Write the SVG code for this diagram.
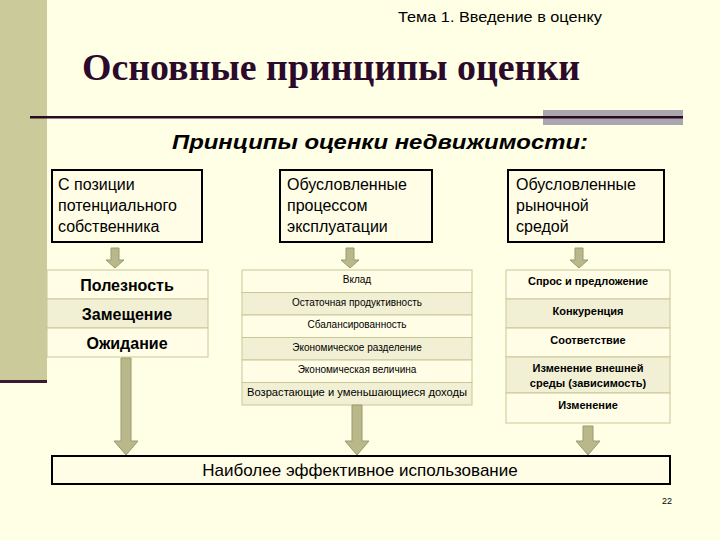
<svg xmlns="http://www.w3.org/2000/svg" width="720" height="540" viewBox="0 0 720 540">
<style>
text{font-family:"Liberation Sans",Arial,sans-serif;fill:#000}
.hb{fill:#fffde6;stroke:#000;stroke-width:2}
.cell{stroke:#c8c79a;stroke-width:1}
.a{fill:#fffde6}.b{fill:#f2f0d4}
.ar{fill:#b8b88a;stroke:#9a9a70;stroke-width:1}
.t1{font-size:16px}
.bl{font-size:16px;font-weight:bold;text-anchor:middle}
.sm{font-size:10px;text-anchor:middle}
.rb{font-size:11px;font-weight:bold;text-anchor:middle}
</style>
<rect width="720" height="540" fill="#ffffe6"/>
<rect x="0" y="0" width="47" height="380" fill="#cbca9b"/>
<rect x="0" y="380" width="47" height="3" fill="#3a1a2e"/>
<text x="398" y="22" font-size="15" textLength="204" lengthAdjust="spacingAndGlyphs">Тема 1. Введение в оценку</text>
<text x="82" y="80" textLength="498" lengthAdjust="spacingAndGlyphs" style="font-family:'Liberation Serif','Times New Roman',serif;font-size:37px;font-weight:bold;fill:#2b0a2b">Основные принципы оценки</text>
<rect x="543" y="110" width="140" height="15" fill="#a9a6ad"/>
<rect x="30" y="116" width="653" height="2.5" fill="#2a0a20"/>
<text x="172" y="149" font-size="21" font-weight="bold" font-style="italic" textLength="416" lengthAdjust="spacingAndGlyphs">Принципы оценки недвижимости:</text>

<g id="top1"><rect class="hb" x="52" y="170" width="150" height="72"/><text class="t1" x="58" y="190">С позиции</text><text class="t1" x="58" y="211">потенциального</text><text class="t1" x="58" y="232">собственника</text></g>
<g id="top2"><rect class="hb" x="280" y="170" width="152" height="72"/><text class="t1" x="287" y="190">Обусловленные</text><text class="t1" x="287" y="211">процессом</text><text class="t1" x="287" y="232">эксплуатации</text></g>
<g id="top3"><rect class="hb" x="508" y="170" width="156" height="72"/><text class="t1" x="516" y="190">Обусловленные</text><text class="t1" x="516" y="211">рыночной</text><text class="t1" x="516" y="232">средой</text></g>

<g id="left">
<rect class="cell a" x="47" y="270" width="161" height="29"/><text class="bl" x="127" y="291">Полезность</text>
<rect class="cell b" x="47" y="299" width="161" height="29"/><text class="bl" x="127" y="320">Замещение</text>
<rect class="cell a" x="47" y="328" width="161" height="29"/><text class="bl" x="127" y="349">Ожидание</text>
</g>
<g id="mid">
<rect class="cell a" x="242" y="270" width="230" height="22.5"/><text class="sm" x="357" y="283">Вклад</text>
<rect class="cell b" x="242" y="292.5" width="230" height="22.5"/><text class="sm" x="357" y="306">Остаточная продуктивность</text>
<rect class="cell a" x="242" y="315" width="230" height="22.5"/><text class="sm" x="357" y="328">Сбалансированность</text>
<rect class="cell b" x="242" y="337.5" width="230" height="22.5"/><text class="sm" x="357" y="351">Экономическое разделение</text>
<rect class="cell a" x="242" y="360" width="230" height="22.5"/><text class="sm" x="357" y="373">Экономическая величина</text>
<rect class="cell b" x="242" y="382.5" width="230" height="22.5"/><text class="sm" x="357" y="396" textLength="220" lengthAdjust="spacingAndGlyphs">Возрастающие и уменьшающиеся доходы</text>
</g>
<g id="right">
<rect class="cell a" x="506" y="270" width="164" height="29"/><text class="rb" x="588" y="285">Спрос и предложение</text>
<rect class="cell b" x="506" y="299" width="164" height="29"/><text class="rb" x="588" y="315">Конкуренция</text>
<rect class="cell a" x="506" y="328" width="164" height="29"/><text class="rb" x="588" y="344">Соответствие</text>
<rect class="cell b" x="506" y="357" width="164" height="36"/><text class="rb" x="588" y="372">Изменение внешней</text><text class="rb" x="588" y="387">среды (зависимость)</text>
<rect class="cell a" x="506" y="393" width="164" height="30"/><text class="rb" x="588" y="409">Изменение</text>
</g>

<g id="connectors">
<path class="ar" d="M111 248h8v12h5l-9 8-9-8h5z"/>
<path class="ar" d="M346 248h8v12h5l-9 8-9-8h5z"/>
<path class="ar" d="M575 248h8v12h5l-9 8-9-8h5z"/>
<path class="ar" d="M121 358h10v83h7l-12 14-12-14h7z"/>
<path class="ar" d="M352 405h10v36h7l-12 14-12-14h7z"/>
<path class="ar" d="M583 426h10v15h7l-12 14-12-14h7z"/>
</g>

<g id="bottom"><rect class="hb" x="52" y="456" width="618" height="28"/><text x="360" y="476" font-size="17" text-anchor="middle">Наиболее эффективное использование</text></g>
<text x="672" y="504" font-size="9" text-anchor="end">22</text>
</svg>
